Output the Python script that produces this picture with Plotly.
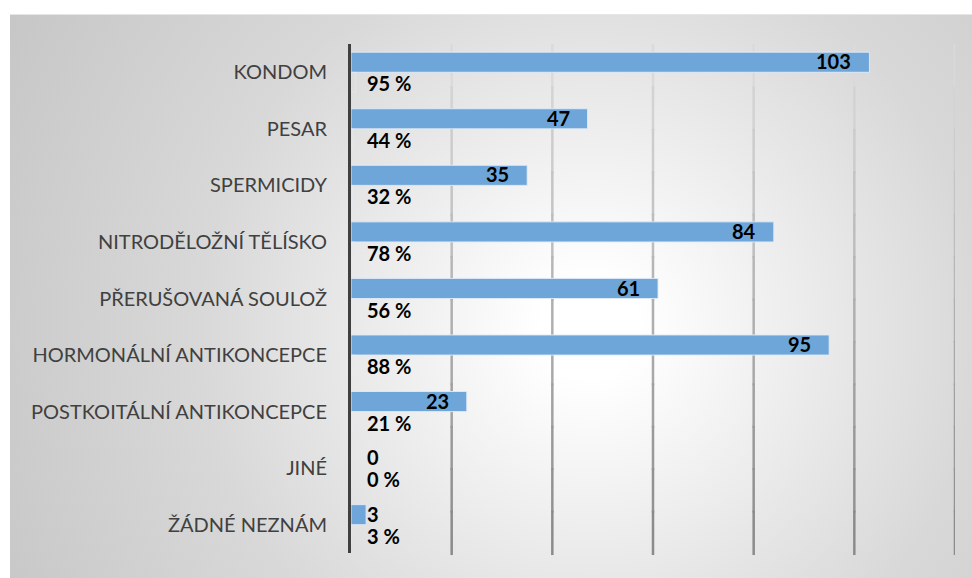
import plotly.graph_objects as go
import urllib.parse

categories = ["KONDOM", "PESAR", "SPERMICIDY", "NITRODĚLOŽNÍ TĚLÍSKO",
              "PŘERUŠOVANÁ SOULOŽ", "HORMONÁLNÍ ANTIKONCEPCE",
              "POSTKOITÁLNÍ ANTIKONCEPCE", "JINÉ", "ŽÁDNÉ NEZNÁM"]
counts = [103, 47, 35, 84, 61, 95, 23, 0, 3]
percents = [95, 44, 32, 78, 56, 88, 21, 0, 3]
grid_ticks = [20, 40, 60, 80, 100, 120]

BAR_COLOR = "#6fa6d9"
LABEL_FONT = dict(family="Lato", size=20, color="#000000", weight="bold")

fig = go.Figure()
fig.add_trace(go.Bar(
    y=categories, x=counts, orientation="h",
    marker=dict(color=BAR_COLOR, line=dict(color="rgba(225,235,248,0.9)", width=1)),
    name="Počet", hoverinfo="x+y",
))
fig.add_trace(go.Bar(
    y=categories, x=[p / 100 for p in percents], orientation="h",
    marker=dict(color="rgba(0,0,0,0)"),
    name="Procenta", hoverinfo="skip",
))

annotations = []
for cat, c, p in zip(categories, counts, percents):
    if c >= 10:
        annotations.append(dict(x=c, y=cat, xref="x", yref="y", text=str(c),
                                xanchor="right", yanchor="middle", xshift=-16, yshift=11,
                                showarrow=False, font=LABEL_FONT))
    else:
        annotations.append(dict(x=0, y=cat, xref="x", yref="y", text=str(c),
                                xanchor="left", yanchor="middle", xshift=14, yshift=11,
                                showarrow=False, font=LABEL_FONT))
    annotations.append(dict(x=0, y=cat, xref="x", yref="y", text=f"{p} %",
                            xanchor="left", yanchor="middle", xshift=14, yshift=-11,
                            showarrow=False, font=LABEL_FONT))

# gradient-coloured vertical gridlines
shapes = []
nseg = 12
top_c, bot_c = 222, 136
for t in grid_ticks:
    for i in range(nseg):
        f = (i + 0.5) / nseg
        v = int(top_c + (bot_c - top_c) * f)
        shapes.append(dict(type="line", xref="x", yref="paper", x0=t, x1=t,
                           y0=1 - i / nseg, y1=1 - (i + 1) / nseg - 0.004,
                           line=dict(color=f"rgb({v},{v},{v})", width=2.5), layer="below"))

# radial gradient background panel
svg = (
    '<svg xmlns="http://www.w3.org/2000/svg" width="962" height="564" viewBox="0 0 962 564" '
    'preserveAspectRatio="none"><defs><radialGradient id="g" gradientUnits="userSpaceOnUse" '
    'cx="580" cy="316" r="700">'
    '<stop offset="0" stop-color="#ffffff"/><stop offset="0.07" stop-color="#ffffff"/>'
    '<stop offset="0.38" stop-color="#e6e6e6"/><stop offset="0.56" stop-color="#d8d8d8"/>'
    '<stop offset="0.89" stop-color="#c9c9c9"/><stop offset="1" stop-color="#c4c4c4"/>'
    '</radialGradient></defs><rect width="962" height="564" fill="url(#g)"/>'
    '<line x1="0" y1="0.5" x2="962" y2="0.5" stroke="#e6e6e6" stroke-width="1"/></svg>'
)
src = "data:image/svg+xml;charset=utf-8," + urllib.parse.quote(svg)

L, R, T, B = 351, 17, 44, 25
pw, ph = 972 - L - R, 578 - T - B
images = [dict(source=src, xref="paper", yref="paper",
               x=(10 - L) / pw, y=(578 - 14 - B) / ph,
               sizex=962 / pw, sizey=564 / ph,
               xanchor="left", yanchor="top", sizing="stretch", layer="below")]

fig.update_layout(
    width=972, height=578,
    margin=dict(l=L, r=R, t=T, b=B),
    paper_bgcolor="#ffffff", plot_bgcolor="rgba(0,0,0,0)",
    barmode="group", bargap=0.29, bargroupgap=0,
    showlegend=False,
    annotations=annotations, shapes=shapes, images=images,
    xaxis=dict(range=[0, 120], dtick=20, showgrid=False, zeroline=False,
               showticklabels=False, showline=False),
    yaxis=dict(autorange="reversed", showgrid=False, zeroline=False,
               showline=True, linecolor="#404040", linewidth=3,
               ticks="", ticklabelstandoff=17,
               tickfont=dict(family="Lato", size=20, color="#404040")),
)

fig.write_html("out.html", config={"displayModeBar": False},
               post_script="document.body.style.margin='0';document.body.style.overflow='hidden';")
